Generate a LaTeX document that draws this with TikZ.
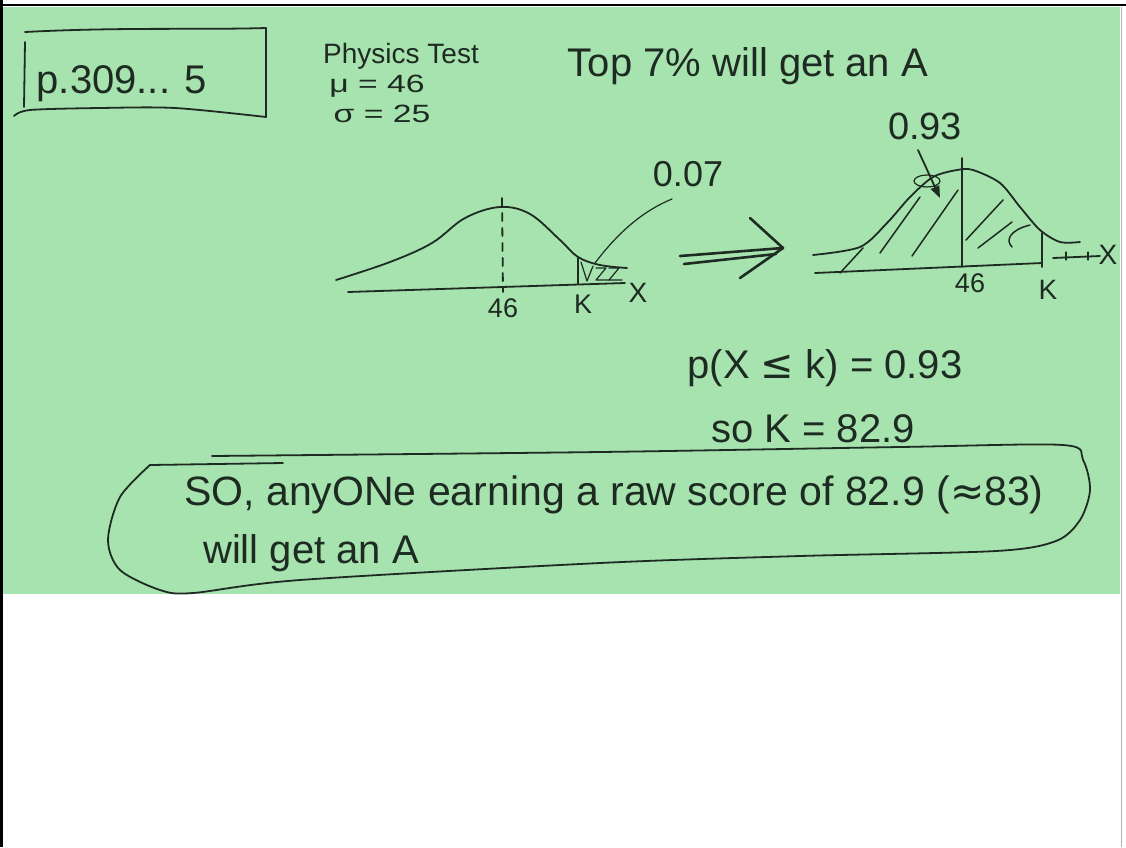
\documentclass[tikz,border=0pt]{standalone}
\usepackage{fontspec}
\setmainfont{Liberation Sans}
\newfontfamily\symfont{DejaVu Sans}
\usetikzlibrary{arrows.meta}
\definecolor{paper}{HTML}{A7E3AE}
\definecolor{ink}{HTML}{1E2B22}
\tikzset{
  pen/.style={ink, line width=1.8pt, line cap=round, line join=round},
  hand/.style={ink, inner sep=0pt, font=\fontsize{#1}{#1}\selectfont}
}
\begin{document}
\begin{tikzpicture}[x=1pt, y=-1pt]
  \useasboundingbox (0,0) rectangle (1126,847);
  \fill[white] (0,0) rectangle (1126,847);
  \fill[paper] (3,7) rectangle (1120,594);
  \draw[black, line width=3pt] (1.5,0) -- (1.5,847);
  \draw[black, line width=2.5pt] (0,5) -- (1126,5);
  \draw[gray!60, line width=1pt] (1121.5,7) -- (1121.5,847);

  % problem box
  \draw[pen] (25,32) .. controls (120,27) and (200,30) .. (266,28);
  \draw[pen] (25,42) -- (24,107);
  \draw[pen] (266,28) -- (266,117);
  \draw[pen] plot[smooth] coordinates {(14,116) (30,110) (100,108) (175,108) (266,117)};
  \node[hand=40] (page) at (122,84) {p.309... 5};

  \node[hand=28] (subject) at (401,56) {Physics Test};
  \node[hand=25] (mean) at (377,86) {\scalebox{1.35}[1]{μ = 46}};
  \node[hand=25] (spread) at (382,114) {\scalebox{1.35}[1]{σ = 25}};
  \node[hand=40] (goal) at (748,66) {Top 7\% will get an A};

  % left curve, upper tail
  \coordinate (peakL) at (502,198);
  \coordinate (kL) at (578,257);
  \draw[pen] plot[smooth, tension=0.6] coordinates {(336,280) (390,262) (432,243) (465,218) (500,207) (530,214) (560,240) (578,257) (600,265) (627,268)};
  \draw[pen] (348,292) -- (625,283);
  \draw[pen, dash pattern=on 8pt off 7pt] (peakL) -- (503,292);
  \draw[pen] (kL) -- (578,284);
  \draw[pen, line width=1.2pt] (581,262) -- (587,281) -- (593,266);
  \foreach \x in {596,609}
    \draw[pen, line width=1.2pt] (\x,268) -- (\x+10,268) -- (\x,280) -- (\x+13,280);
  \draw[pen, line width=1.2pt] (595,263) .. controls (620,230) and (645,210) .. (672,199);
  \node[hand=36] (tail) at (688,174) {0.07};
  \node[hand=27] (muL) at (503,308) {46};
  \node[hand=27] (kLlabel) at (583,304) {K};
  \node[hand=28] (xL) at (638,293) {X};

  % arrow
  \coordinate (tip) at (783,248);
  \draw[pen, line width=2.6pt] (680,256) -- (tip);
  \draw[pen, line width=2.6pt] (684,264) -- (776,254);
  \draw[pen, line width=2.6pt] (750,218) -- (tip) -- (740,278);

  % right curve, lower area
  \coordinate (peakR) at (962,158);
  \coordinate (kR) at (1042,233);
  \draw[pen] plot[smooth] coordinates {(813,255) (860,247) (887,223) (910,197) (933,177) (957,170) (973,170) (1000,183) (1020,207) (1040,230) (1060,242) (1080,242)};
  \draw[pen] (815,273) -- (1042,263);
  \draw[pen] (1053,258) -- (1100,256);
  \foreach \x in {1066,1088}
    \draw[pen, line width=1.2pt] (\x,252) -- (\x,260);
  \draw[pen] (peakR) -- (962,267);
  \draw[pen] (kR) -- (1042,267);
  \foreach \a/\b in {{(840,273)}/{(863,248)}, {(880,253)}/{(920,197)}, {(912,256)}/{(958,190)}, {(966,240)}/{(1003,200)}, {(978,248)}/{(1012,222)}}
    \draw[pen, line width=1.5pt] \a -- \b;
  \draw[pen, line width=1.5pt] (1012,247) .. controls (1005,240) and (1010,230) .. (1030,225);
  \draw[pen, line width=1.2pt] (927,181) ellipse (13pt and 6pt);
  \draw[pen, -{Triangle[length=12pt, width=9pt]}] (918,150) -- (940,198);
  \node[hand=38] (inside) at (925,126) {0.93};
  \node[hand=27] (muR) at (970,283) {46};
  \node[hand=28] (kRlabel) at (1048,290) {K};
  \node[hand=28] (xR) at (1108,255) {X};

  % answer
  \node[hand=40] (prob) at (825,368) {p(X {\symfont ≤} k) = 0.93};
  \node[hand=40] (kval) at (813,429) {so K = 82.9};

  % summary bubble
  \draw[pen] plot[smooth] coordinates {(212,456) (600,452) (900,447) (1063,445) (1083,460) (1090,490) (1080,520) (1056,541) (996,551) (800,556) (600,563) (300,580) (193,593) (160,590) (120,570) (108,540) (120,497) (150,465)};
  \draw[pen] (150,465) -- (283,463);
  \node[hand=41] (claim) at (614,495) {SO, anyONe earning a raw score of 82.9 ({\symfont ≈}83)};
  \node[hand=40] (claimend) at (311,553) {will get an A};
\end{tikzpicture}
\end{document}
